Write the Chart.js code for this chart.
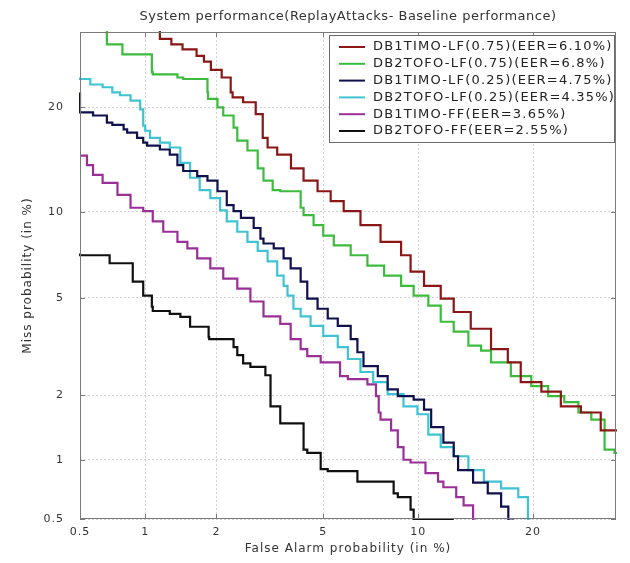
<!DOCTYPE html>
<html>
<head>
<meta charset="utf-8">
<script src="https://cdn.jsdelivr.net/npm/chart.js@4.4.1/dist/chart.umd.min.js"></script>
<style>
html,body{margin:0;padding:0;background:#fff;}
#wrap{width:630px;height:563px;position:relative;}
</style>
</head>
<body>
<div id="wrap"><canvas id="c" width="630" height="563"></canvas></div>
<script>
// ---- data (percent) ----
const tickValues = [0.5, 1, 2, 5, 10, 20];
const tickLabels = ['0.5', '1', '2', '5', '10', '20'];
const axisMin = 0.5, axisMax = 30;
const chartTitle = 'System performance(ReplayAttacks- Baseline performance)';

const seriesLabels = [
  'DB1TIMO-LF(0.75)(EER=6.10%)',
  'DB2TOFO-LF(0.75)(EER=6.8%)',
  'DB1TIMO-LF(0.25)(EER=4.75%)',
  'DB2TOFO-LF(0.25)(EER=4.35%)',
  'DB1TIMO-FF(EER=3.65%)',
  'DB2TOFO-FF(EER=2.55%)'
];
const seriesColors = ['#8a1616', '#3dbb3d', '#10104f', '#3fc3d3', '#9b2f98', '#101010'];

const fa1   = [1.16,1.30,1.45,1.66,1.78,1.90,2.10,2.28,2.32,2.55,2.85,3.03,3.16,3.43,3.85,4.27,4.78,5.30,5.86,6.65,7.70,8.90,9.50,10.4,11.6,12.6,14.0,15.8,17.4,18.7,20.9,23.1,25.5,28.0,28.5,31];
const miss1 = [30.5,29.0,28.2,27.5,26.6,25.8,24.7,23.7,21.8,21.2,20.6,19.2,16.6,15.6,14.9,13.6,12.5,11.6,10.8,10.05,9.05,7.95,7.15,6.25,5.55,4.97,4.42,3.8,3.14,2.77,2.28,2.07,1.78,1.67,1.38,1.38];

const fa2   = [0.67,0.67,0.79,0.79,1.07,1.08,1.38,1.46,1.84,1.85,2.02,2.13,2.34,2.42,2.65,2.90,3.05,3.30,3.52,4.17,4.27,4.63,5.0,5.43,6.18,7.0,7.9,8.9,9.7,10.7,11.6,12.6,13.8,14.9,15.8,17.7,19.8,21.65,23.5,25.2,26.8,28.5,28.5,29.8,31];
const miss2 = [31,28.5,28.2,27.1,26.8,24.4,24.1,23.7,23.5,21.8,21.0,20.0,19.05,17.7,16.3,15.3,13.6,12.5,11.7,11.6,10.3,9.75,9.05,8.35,7.73,7.15,6.57,6.05,5.55,5.1,4.68,4.05,3.7,3.25,3.1,2.77,2.42,2.19,1.98,1.86,1.67,1.55,1.25,1.12,1.08];

const fa3   = [0.5,0.5,0.577,0.67,0.71,0.80,0.83,0.92,0.98,1.02,1.16,1.28,1.38,1.46,1.67,1.84,2.02,2.2,2.34,2.5,2.8,2.97,3.05,3.33,3.62,3.84,4.17,4.4,4.78,5.18,5.6,6.18,6.5,6.8,7.55,8.1,8.7,9.7,10.4,10.9,11.8,12.6,12.95,14.2,15.5,16.75,17.45,18.05];
const miss3 = [21.8,19.75,19.4,19.05,18.25,18.0,17.5,17.15,16.6,16.1,15.8,15.4,14.9,13.9,13.35,12.9,12.5,11.6,10.5,10.05,9.55,8.85,8.15,7.85,7.55,6.97,6.42,5.75,4.97,4.55,4.17,3.9,3.45,3.05,2.67,2.42,2.12,1.98,1.91,1.72,1.43,1.21,1.04,0.89,0.77,0.68,0.58,0.49];

const fa4   = [0.5,0.56,0.64,0.71,0.77,0.86,0.95,0.98,1.0,1.05,1.16,1.28,1.42,1.56,1.71,1.89,2.07,2.2,2.42,2.65,2.9,3.16,3.43,3.62,3.74,3.93,4.17,4.52,5.0,5.6,6.05,6.65,7.3,8.1,9.05,9.95,10.7,11.6,12.6,13.8,15.15,16.75,18.45,19.45,19.8];
const miss4 = [23.7,23.5,22.8,22.45,21.8,21.45,20.8,19.75,17.9,17.35,16.6,16.1,15.6,14.1,12.75,11.7,11.05,10.1,9.3,8.6,7.95,7.4,6.8,6.05,5.55,5.1,4.55,4.25,3.9,3.56,3.2,2.86,2.52,2.28,2.02,1.78,1.64,1.32,1.15,1.04,0.89,0.78,0.72,0.65,0.49];

const fa5   = [0.5,0.54,0.577,0.64,0.75,0.86,0.98,1.08,1.2,1.38,1.52,1.67,1.89,2.13,2.42,2.72,3.05,3.52,3.84,4.17,4.4,4.9,5.7,6.05,7.0,7.45,7.6,7.7,8.3,8.7,9.05,9.5,10.5,11.4,11.8,12.8,13.4,14.2,14.45];
const miss5 = [14.8,14.8,13.9,13.0,12.3,11.3,10.3,10.05,9.3,8.6,7.95,7.55,6.97,6.42,5.9,5.42,4.85,4.25,3.97,3.45,3.14,2.94,2.77,2.42,2.35,2.23,1.98,1.67,1.55,1.38,1.15,1.0,0.97,0.86,0.78,0.73,0.65,0.59,0.49];

const fa6   = [0.5,0.69,0.69,0.88,0.88,0.98,0.98,1.07,1.08,1.28,1.42,1.56,1.56,1.86,1.87,2.34,2.42,2.55,2.72,3.1,3.24,3.24,3.52,3.52,4.27,4.4,4.9,5.18,6.5,6.65,8.45,8.7,9.5,9.7,9.95,12.6];
const miss6 = [7.25,7.15,6.7,6.7,5.8,5.75,5.28,5.1,4.63,4.46,4.35,4.23,3.9,3.87,3.52,3.45,3.2,2.97,2.74,2.65,2.44,1.82,1.78,1.52,1.49,1.12,1.08,0.9,0.88,0.78,0.78,0.68,0.65,0.56,0.5,0.5];

const seriesFA = [fa1, fa2, fa3, fa4, fa5, fa6];
const seriesMiss = [miss1, miss2, miss3, miss4, miss5, miss6];

// ---- normal deviate (DET) scale ----
function probit(p){
  const a=[-3.969683028665376e+01,2.209460984245205e+02,-2.759285104469687e+02,1.383577518672690e+02,-3.066479806614716e+01,2.506628277459239e+00];
  const b=[-5.447609879822406e+01,1.615858368580409e+02,-1.556989798598866e+02,6.680131188771972e+01,-1.328068155288572e+01];
  const c=[-7.784894002430293e-03,-3.223964580411365e-01,-2.400758277161838e+00,-2.549732539343734e+00,4.374664141464968e+00,2.938163982698783e+00];
  const d=[7.784695709041462e-03,3.224671290700398e-01,2.445134137142996e+00,3.754408661907416e+00];
  const pl=0.02425;
  if(p<pl){const q=Math.sqrt(-2*Math.log(p));return (((((c[0]*q+c[1])*q+c[2])*q+c[3])*q+c[4])*q+c[5])/((((d[0]*q+d[1])*q+d[2])*q+d[3])*q+1);}
  if(p<=1-pl){const q=p-0.5,r=q*q;return (((((a[0]*r+a[1])*r+a[2])*r+a[3])*r+a[4])*r+a[5])*q/(((((b[0]*r+b[1])*r+b[2])*r+b[3])*r+b[4])*r+1);}
  const q=Math.sqrt(-2*Math.log(1-p));return -(((((c[0]*q+c[1])*q+c[2])*q+c[3])*q+c[4])*q+c[5])/((((d[0]*q+d[1])*q+d[2])*q+d[3])*q+1);
}
const dev = v => probit(v / 100);

const datasets = seriesLabels.map((lab, i) => ({
  label: lab,
  data: seriesFA[i].map((x, j) => ({x: dev(x), y: dev(seriesMiss[i][j])})),
  borderColor: seriesColors[i],
  backgroundColor: seriesColors[i],
  borderWidth: 2.2,
  pointRadius: 0,
  stepped: 'after',
  fill: false,
  clip: 1
}));

const FONT = 'DejaVu Sans';

function buildTicks(scale){
  scale.ticks = tickValues.map(v => ({value: dev(v)}));
}

const spacingPlugin = {
  id: 'spacing',
  beforeLayout(chart){ chart.ctx.letterSpacing = '1px'; },
  beforeDraw(chart){ chart.ctx.letterSpacing = '1px'; }
};

const framePlugin = {
  id: 'frame',
  afterDatasetsDraw(chart){
    const {ctx, chartArea: a, scales} = chart;
    ctx.save();
    ctx.strokeStyle = '#7a7a7a';
    ctx.lineWidth = 1;
    ctx.strokeRect(Math.round(a.left)+0.5, Math.round(a.top)+0.5, Math.round(a.right-a.left)-1, Math.round(a.bottom-a.top)-1);
    ctx.beginPath();
    tickValues.forEach(v => {
      const px = Math.round(scales.x.getPixelForValue(dev(v))) + 0.5;
      ctx.moveTo(px, a.bottom); ctx.lineTo(px, a.bottom - 5);
      ctx.moveTo(px, a.top); ctx.lineTo(px, a.top + 5);
      const py = Math.round(scales.y.getPixelForValue(dev(v))) + 0.5;
      ctx.moveTo(a.left, py); ctx.lineTo(a.left + 5, py);
      ctx.moveTo(a.right, py); ctx.lineTo(a.right - 5, py);
    });
    ctx.stroke();
    ctx.restore();
  },
  afterDraw(chart){
    const {ctx, chartArea: a} = chart;
    ctx.save();
    // title, centred over the plot box
    ctx.font = '13px "' + FONT + '"';
    ctx.letterSpacing = '0.5px';
    ctx.fillStyle = '#333';
    ctx.textAlign = 'center';
    ctx.textBaseline = 'middle';
    ctx.fillText(chartTitle, (a.left + a.right) / 2, 17);
    // legend
    const x0 = 329, y0 = 35, w = 285, h = 107;
    ctx.textAlign = 'left';
    ctx.fillStyle = '#fff';
    ctx.fillRect(x0, y0, w, h);
    ctx.strokeStyle = '#6a6a6a';
    ctx.lineWidth = 1;
    ctx.strokeRect(x0 + 0.5, y0 + 0.5, w, h);
    ctx.font = '13px "' + FONT + '"';
    ctx.letterSpacing = '1.2px';
    chart.data.datasets.forEach((ds, i) => {
      const y = y0 + 12 + i * 16.8;
      ctx.strokeStyle = ds.borderColor;
      ctx.lineWidth = 2;
      ctx.beginPath();
      ctx.moveTo(x0 + 10, y); ctx.lineTo(x0 + 36, y);
      ctx.stroke();
      ctx.fillStyle = '#222';
      ctx.fillText(ds.label, x0 + 44, y);
    });
    ctx.restore();
  }
};

new Chart(document.getElementById('c'), {
  type: 'line',
  data: {datasets},
  options: {
    responsive: false,
    animation: false,
    events: [],
    layout: {padding: {left: 0, right: 14, top: 32, bottom: 0}},
    plugins: {
      legend: {display: false},
      tooltip: {enabled: false},
      title: {display: false}
    },
    scales: {
      x: {
        type: 'linear',
        min: dev(axisMin), max: dev(axisMax),
        afterBuildTicks: buildTicks,
        afterFit: s => { s.height = 44; },
        ticks: {
          autoSkip: false, maxRotation: 0,
          padding: 7,
          color: '#333',
          font: {family: FONT, size: 11},
          callback: (v, i) => tickLabels[i]
        },
        grid: {color: '#d2d2d2', drawTicks: false, lineWidth: 1},
        border: {display: false, dash: [2, 2]},
        title: {
          display: true,
          text: 'False Alarm probability (in %)',
          color: '#333',
          font: {family: FONT, size: 12},
          padding: {top: 0, bottom: 7}
        }
      },
      y: {
        type: 'linear',
        min: dev(axisMin), max: dev(axisMax),
        afterBuildTicks: buildTicks,
        afterFit: s => { s.width = 80; },
        ticks: {
          autoSkip: false,
          padding: 16,
          color: '#333',
          font: {family: FONT, size: 11},
          callback: (v, i) => tickLabels[i]
        },
        grid: {color: '#d2d2d2', drawTicks: false, lineWidth: 1},
        border: {display: false, dash: [2, 2]},
        title: {
          display: true,
          text: 'Miss probability (in %)',
          color: '#333',
          font: {family: FONT, size: 12},
          padding: {top: 21, bottom: 0}
        }
      }
    }
  },
  plugins: [spacingPlugin, framePlugin]
});
</script>
</body>
</html>
